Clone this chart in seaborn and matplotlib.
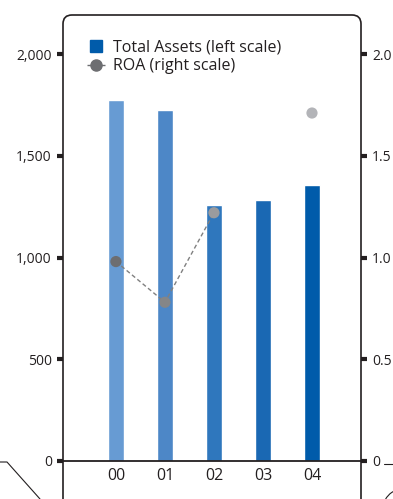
import numpy as np
import pandas as pd
import seaborn as sns
import matplotlib
matplotlib.use("Agg")
from matplotlib import pyplot as plt
from matplotlib.patches import FancyBboxPatch, Arc
from matplotlib.lines import Line2D

# veriler
years = ["00", "01", "02", "03", "04"]
total_assets = [1775, 1725, 1258, 1283, 1356]
roa = [0.98, 0.78, 1.22, np.nan, 1.71]
bar_colors = ["#679bd3", "#4d87c7", "#2f77bd", "#1a68b3", "#005baa"]
roa_colors = ["#6d6e71", "#858688", "#9a9b9e", "#a8a9ad", "#b3b4b8"]
left_ticks = [0, 500, 1000, 1500, 2000]
left_labels = ["0", "500", "1,000", "1,500", "2,000"]
right_ticks = [0, 0.5, 1.0, 1.5, 2.0]
right_labels = ["0", "0.5", "1.0", "1.5", "2.0"]

sns.set_style("white")
plt.rcParams['font.family'] = ['Open Sans', 'DejaVu Sans']

df = pd.DataFrame({'year': years, 'assets': total_assets, 'roa': roa})

fig = plt.figure(figsize=(3.93, 4.99), dpi=100)
W, H = 393, 499
ax = fig.add_axes([63 / W, 38 / H, 298 / W, 446 / H])

sns.barplot(data=df, x='year', y='assets', hue='year', palette=bar_colors,
            width=0.33, legend=False, ax=ax, saturation=1)
ax.set_xlim(-1.08, 5.0)
ax.set_ylim(0, 2000 * 446 / 407)
ax.set_xlabel("")
ax.set_ylabel("")
ax.set_yticks(left_ticks)
ax.set_yticklabels(left_labels)
for s in ['top', 'left', 'right']:
    ax.spines[s].set_visible(False)
ax.spines['bottom'].set_color('#231f20')
ax.spines['bottom'].set_linewidth(1.3)
ax.tick_params(axis='y', direction='out', length=4, width=3, color='#231f20',
               labelsize=10, pad=4, left=True, labelcolor='#231f20')
ax.tick_params(axis='x', length=0, labelsize=11.5, pad=5, labelcolor='#231f20')

# sağ eksen ROA
ax2 = ax.twinx()
ax2.set_ylim(0, 2.0 * 446 / 407)
x = np.arange(len(years))
ax2.plot(x, roa, ls=(0, (3, 2)), color='#808080', lw=1, zorder=2)
ax2.scatter(x, roa, c=roa_colors, s=65, zorder=3, edgecolors='none')
ax2.set_yticks(right_ticks)
ax2.set_yticklabels(right_labels)
for s in ax2.spines.values():
    s.set_visible(False)
ax2.tick_params(axis='y', direction='out', length=4, width=3, color='#231f20',
                labelsize=10, pad=4, right=True, labelcolor='#231f20')

# yuvarlak köşeli çerçeve
frame = FancyBboxPatch((0, -0.3), 1, 1.3, transform=ax.transAxes,
                       boxstyle="round,pad=0,rounding_size=0.03",
                       fill=False, ec='#231f20', lw=1.2, clip_on=False,
                       mutation_aspect=298 / 446)
ax.add_patch(frame)

# legend
handles = [Line2D([], [], marker='s', ls='none', color='#005baa', markersize=9),
           Line2D([], [], marker='o', ls=(0, (3, 2)), color='#6d6e71', lw=1,
                  markersize=8)]
ax.legend(handles, ["Total Assets (left scale)", "ROA (right scale)"],
          loc='upper left', bbox_to_anchor=(0.06, 0.96), frameon=False,
          fontsize=11.5, handlelength=1.1, handletextpad=0.5, labelspacing=0.2,
          borderaxespad=0, labelcolor='#231f20')

# diğer paneller için süs çizgileri
fig.add_artist(Line2D([0, 7 / W, 40 / W], [1 - 462 / H, 1 - 462 / H, 0],
                      color='#231f20', lw=0.8))
fig.add_artist(Line2D([384 / W, 1], [1 - 464 / H, 1 - 464 / H],
                      color='#231f20', lw=0.8))
fig.add_artist(Arc((403 / W, 1 - 509 / H), 40 / W, 40 / H, theta1=100,
                   theta2=200, transform=fig.transFigure, color='#231f20',
                   lw=0.8))

fig.savefig("out.png", dpi=100)
